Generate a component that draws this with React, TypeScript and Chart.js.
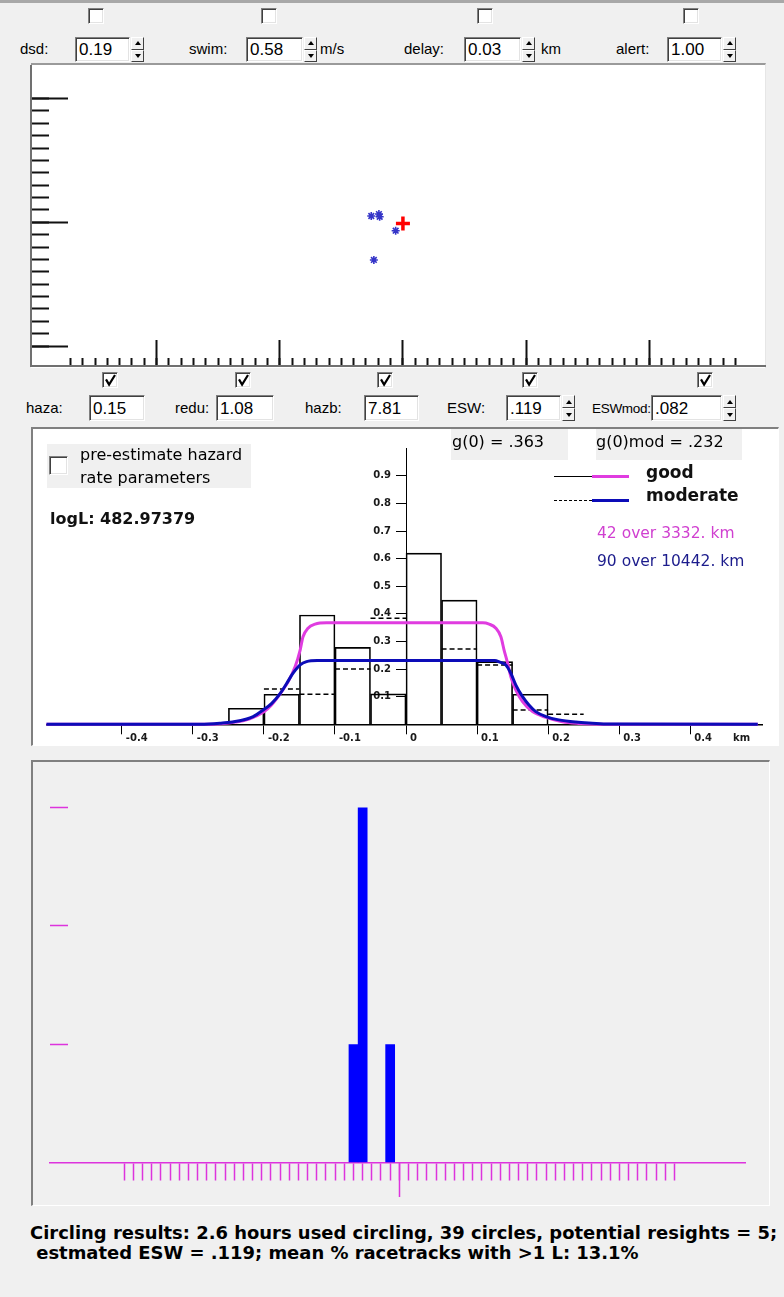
import React, { useEffect, useRef } from 'react';
import { Chart, registerables } from 'chart.js';

Chart.register(...registerables);

// ================= DATA =================
// Top panel: sightings around the circling position (km)
const sightingX = [-0.257, -0.195, -0.189, -0.059, -0.236];
const sightingY = [0.051, 0.067, 0.045, -0.068, -0.304];
const aircraftX = [0];
const aircraftY = [-0.01];
const topMajorTicksX = [-2, -1, 0, 1, 2];
const topMajorTicksY = [-1, 0, 1];
const topMinorLimitX = 2.7;
const topMinorLimitY = 1.0;

// Middle panel: perpendicular distance histograms (km) and detection curves
const binWidth = 0.05;
const goodBinStart = [-0.25, -0.2, -0.15, -0.1, -0.05, 0, 0.05, 0.1, 0.15];
const goodHist = [0.058, 0.109, 0.396, 0.279, 0.11, 0.62, 0.45, 0.227, 0.109];
const moderateBinStart = [-0.2, -0.15, -0.1, -0.05, 0, 0.05, 0.1, 0.15, 0.2];
const moderateHist = [0.128, 0.109, 0.2, 0.384, 0.368, 0.273, 0.215, 0.052, 0.036];

const goodCurveX = [-0.506, -0.29, -0.26, -0.24, -0.22, -0.2, -0.19, -0.18, -0.172, -0.166, -0.156, -0.149, -0.145, -0.138, -0.128, -0.112, 0.108, 0.117, 0.1265, 0.1335, 0.138, 0.143, 0.1475, 0.1546, 0.164, 0.178, 0.197, 0.22, 0.243, 0.275, 0.495];
const goodCurveY = [0, 0, 0.002, 0.008, 0.02, 0.045, 0.068, 0.1, 0.13, 0.154, 0.209, 0.269, 0.317, 0.348, 0.363, 0.368, 0.368, 0.363, 0.348, 0.317, 0.269, 0.221, 0.172, 0.124, 0.082, 0.046, 0.025, 0.009, 0.003, 0, 0];
const modCurveX = [-0.506, -0.29, -0.262, -0.234, -0.215, -0.201, -0.189, -0.177, -0.168, -0.159, -0.149, -0.14, -0.125, 0.125, 0.132, 0.1405, 0.1475, 0.1546, 0.164, 0.173, 0.1826, 0.197, 0.215, 0.239, 0.262, 0.285, 0.495];
const modCurveY = [0, 0, 0.004, 0.013, 0.028, 0.052, 0.076, 0.112, 0.148, 0.185, 0.215, 0.227, 0.231, 0.231, 0.225, 0.215, 0.185, 0.142, 0.1, 0.07, 0.046, 0.028, 0.016, 0.008, 0.004, 0.001, 0];

const histTicksX = [-0.4, -0.3, -0.2, -0.1, 0, 0.1, 0.2, 0.3, 0.4];
const histTickLabelsX = ['-0.4', '-0.3', '-0.2', '-0.1', '0', '0.1', '0.2', '0.3', '0.4'];
const histTicksY = [0.1, 0.2, 0.3, 0.4, 0.5, 0.6, 0.7, 0.8, 0.9];
const histTickLabelsY = ['0.1', '0.2', '0.3', '0.4', '0.5', '0.6', '0.7', '0.8', '0.9'];

// Bottom panel: circling histogram
const circleBins = [-5, -4, -1];
const circleCounts = [1, 3, 1];
const circleTicksY = [1, 2, 3];
const circleMajorTicksX = [0];
const circleTickLimit = 30;

// ================= COLORS =================
const MAGENTA = '#e03ce0';
const CURVE_BLUE = '#0c0cb8';
const BAR_BLUE = '#0000ff';
const PINK = '#dd33dd';

// ================= CHART CONFIGS =================
function topConfig(): any {
  const xMin = -3.02, xMax = 2.94, yMin = -1.161, yMax = 1.263;
  const tickColor = '#111';
  return {
    type: 'scatter',
    data: {
      datasets: [
        {
          label: 'sightings',
          data: sightingX.map((x, i) => ({ x, y: sightingY[i] })),
          pointStyle: 'star',
          pointRadius: 4,
          borderWidth: 1.6,
          borderColor: '#3434c8',
          backgroundColor: '#3434c8',
          xAxisID: 'x',
          yAxisID: 'y',
        },
        {
          label: 'aircraft',
          data: aircraftX.map((x, i) => ({ x, y: aircraftY[i] })),
          pointStyle: 'cross',
          pointRadius: 7,
          borderWidth: 3.5,
          borderColor: '#ff0000',
          backgroundColor: '#ff0000',
          xAxisID: 'x',
          yAxisID: 'y',
        },
      ],
    },
    options: {
      responsive: false,
      animation: false,
      events: [],
      layout: { autoPadding: false, padding: { left: 2, top: 2, right: 2, bottom: 2 } },
      plugins: { legend: { display: false }, tooltip: { enabled: false } },
      scales: {
        x: {
          type: 'linear', axis: 'x', offset: false, min: xMin, max: xMax, position: { y: yMin },
          border: { display: true, color: '#707070', width: 2 },
          grid: { drawOnChartArea: false, drawTicks: true, tickLength: -9, tickColor, tickWidth: 2 },
          ticks: { display: false, stepSize: 0.1 },
          afterBuildTicks: (s: any) => { s.ticks = s.ticks.filter((t: any) => Math.abs(t.value) <= topMinorLimitX + 1e-6); },
        },
        xMajor: {
          type: 'linear', axis: 'x', offset: false, min: xMin, max: xMax, position: { y: yMin },
          border: { display: false },
          grid: { drawOnChartArea: false, drawTicks: true, tickLength: -26, tickColor, tickWidth: 2 },
          ticks: { display: false },
          afterBuildTicks: (s: any) => { s.ticks = topMajorTicksX.map((value) => ({ value })); },
        },
        y: {
          type: 'linear', axis: 'y', offset: false, min: yMin, max: yMax, position: { x: xMin },
          border: { display: true, color: '#707070', width: 2 },
          grid: { drawOnChartArea: false, drawTicks: true, tickLength: -19, tickColor, tickWidth: 2 },
          ticks: { display: false, stepSize: 0.1 },
          afterBuildTicks: (s: any) => { s.ticks = s.ticks.filter((t: any) => Math.abs(t.value) <= topMinorLimitY + 1e-6); },
        },
        yMajor: {
          type: 'linear', axis: 'y', offset: false, min: yMin, max: yMax, position: { x: xMin },
          border: { display: false },
          grid: { drawOnChartArea: false, drawTicks: true, tickLength: -37, tickColor, tickWidth: 2 },
          ticks: { display: false },
          afterBuildTicks: (s: any) => { s.ticks = topMajorTicksY.map((value) => ({ value })); },
        },
      },
    },
  };
}

function histConfig(): any {
  const tickFont = { family: 'DejaVu Sans', size: 10, weight: 'bold' };
  const moderateSegments = moderateBinStart.flatMap((s, i) => [
    { x: s, y: moderateHist[i] },
    { x: s + binWidth, y: moderateHist[i] },
    { x: s + binWidth, y: null },
  ]);
  return {
    type: 'bar',
    data: {
      datasets: [
        {
          type: 'line',
          label: 'moderate curve',
          data: modCurveX.map((x, i) => ({ x, y: modCurveY[i] })),
          borderColor: CURVE_BLUE,
          borderWidth: 3,
          pointRadius: 0,
          cubicInterpolationMode: 'monotone',
          clip: 4,
          order: 0,
        },
        {
          type: 'line',
          label: 'good curve',
          data: goodCurveX.map((x, i) => ({ x, y: goodCurveY[i] })),
          borderColor: MAGENTA,
          borderWidth: 3,
          pointRadius: 0,
          cubicInterpolationMode: 'monotone',
          clip: 4,
          order: 1,
        },
        {
          type: 'line',
          label: 'moderate histogram',
          data: moderateSegments,
          borderColor: '#000',
          borderWidth: 1.5,
          borderDash: [5, 3],
          pointRadius: 0,
          spanGaps: false,
          order: 2,
        },
        {
          type: 'bar',
          label: 'good histogram',
          data: goodBinStart.map((s, i) => ({ x: s + binWidth / 2, y: goodHist[i] })),
          backgroundColor: 'rgba(0,0,0,0)',
          borderColor: '#000',
          borderWidth: 1,
          barPercentage: 1,
          categoryPercentage: 1,
          order: 3,
        },
      ],
    },
    options: {
      responsive: false,
      animation: false,
      events: [],
      layout: { autoPadding: false, padding: { left: 13.5, top: 18.3, right: 16, bottom: 0 } },
      plugins: { legend: { display: false }, tooltip: { enabled: false } },
      scales: {
        x: {
          type: 'linear', offset: false, min: -0.506, max: 0.501, position: 'bottom',
          border: { display: true, color: '#000', width: 1.5 },
          grid: { offset: false, drawOnChartArea: false, drawTicks: true, tickLength: 10, tickColor: '#000', tickWidth: 1 },
          ticks: {
            font: tickFont, color: '#1a1a1a', align: 'start', labelOffset: 4, padding: -2,
            maxRotation: 0, autoSkip: false,
            callback: (_v: any, i: number) => histTickLabelsX[i],
          },
          afterBuildTicks: (s: any) => { s.ticks = histTicksX.map((value) => ({ value })); },
          afterFit: (s: any) => { s.height = 19.7; },
        },
        y: {
          type: 'linear', offset: false, min: 0, max: 1, position: { x: 0 },
          border: { display: true, color: '#000', width: 1 },
          grid: { drawOnChartArea: false, drawTicks: true, tickLength: 10, tickColor: '#000', tickWidth: 1 },
          ticks: { display: false },
          afterBuildTicks: (s: any) => { s.ticks = histTicksY.map((value) => ({ value })); },
        },
        yLabels: {
          type: 'linear', axis: 'y', offset: false, min: 0, max: 1, position: { x: -0.0211 },
          border: { display: false },
          grid: { display: false, drawTicks: false },
          ticks: {
            font: tickFont, color: '#1a1a1a', padding: 0, autoSkip: false,
            callback: (_v: any, i: number) => histTickLabelsY[i],
          },
          afterBuildTicks: (s: any) => { s.ticks = histTicksY.map((value) => ({ value })); },
        },
      },
    },
  };
}

function circleConfig(): any {
  const xMin = -38.1, xMax = 37.7;
  return {
    type: 'bar',
    data: {
      datasets: [
        {
          label: 'circles',
          data: circleBins.map((x, i) => ({ x, y: circleCounts[i] })),
          backgroundColor: BAR_BLUE,
          borderWidth: 0,
          barPercentage: 1.06,
          categoryPercentage: 1,
          xAxisID: 'x',
          yAxisID: 'y',
        },
      ],
    },
    options: {
      responsive: false,
      animation: false,
      events: [],
      layout: { autoPadding: false, padding: { left: 17, top: 10, right: 23, bottom: 41.5 } },
      plugins: { legend: { display: false }, tooltip: { enabled: false } },
      scales: {
        x: {
          type: 'linear', axis: 'x', offset: false, min: xMin, max: xMax, position: { y: 0 },
          border: { display: true, color: PINK, width: 1.5 },
          grid: { offset: false, drawOnChartArea: false, drawTicks: true, tickLength: 17, tickColor: PINK, tickWidth: 1.5 },
          ticks: { display: false, stepSize: 1 },
          afterBuildTicks: (s: any) => { s.ticks = s.ticks.filter((t: any) => Math.abs(t.value) <= circleTickLimit + 1e-6); },
        },
        xMajor: {
          type: 'linear', axis: 'x', offset: false, min: xMin, max: xMax, position: { y: 0 },
          border: { display: false },
          grid: { offset: false, drawOnChartArea: false, drawTicks: true, tickLength: 34, tickColor: PINK, tickWidth: 1.5 },
          ticks: { display: false },
          afterBuildTicks: (s: any) => { s.ticks = circleMajorTicksX.map((value) => ({ value })); },
        },
        y: {
          type: 'linear', axis: 'y', offset: false, min: 0, max: 3.3, position: { x: xMin },
          border: { display: false },
          grid: { drawOnChartArea: false, drawTicks: true, tickLength: -18, tickColor: PINK, tickWidth: 1.5 },
          ticks: { display: false },
          afterBuildTicks: (s: any) => { s.ticks = circleTicksY.map((value) => ({ value })); },
        },
      },
    },
  };
}

// ================= UI PIECES =================
function ChartCanvas({ left, top, width, height, make }: { left: number; top: number; width: number; height: number; make: () => any }) {
  const ref = useRef<HTMLCanvasElement>(null);
  useEffect(() => {
    const chart = new Chart(ref.current as HTMLCanvasElement, make());
    return () => chart.destroy();
  }, []);
  return (
    <canvas
      ref={ref}
      width={width}
      height={height}
      style={{ position: 'absolute', left, top, width, height, display: 'block' }}
    />
  );
}

const sunken = {
  boxSizing: 'border-box' as const,
  borderStyle: 'solid',
  borderWidth: 1,
  borderColor: '#808080 #ffffff #ffffff #808080',
  boxShadow: 'inset 1px 1px 0 #404040, inset -1px -1px 0 #e3e3e3',
};

function T({ x, y, children, size = 14, family = 'Liberation Sans', weight = 400, color = '#000', spacing = 0 }: any) {
  return (
    <div
      style={{
        position: 'absolute', left: x, top: y - size, height: size * 2, lineHeight: `${size * 2}px`,
        fontFamily: family, fontSize: size, fontWeight: weight, color, whiteSpace: 'pre', letterSpacing: spacing,
      }}
    >
      {children}
    </div>
  );
}

function CheckBox({ x, y, size = 16, checked = false }: any) {
  return (
    <div style={{ position: 'absolute', left: x, top: y, width: size, height: size, background: '#fff', ...sunken }}>
      {checked && (
        <svg width={size - 2} height={size - 2} style={{ position: 'absolute', left: 0, top: 0 }}>
          <polyline points={`3,${size * 0.4} ${size * 0.38},${size * 0.72} ${size - 4},2`} fill="none" stroke="#000" strokeWidth={2.2} />
        </svg>
      )}
    </div>
  );
}

function Field({ x, y, w, h, value, size = 16 }: any) {
  return (
    <div
      style={{
        position: 'absolute', left: x, top: y, width: w, height: h, background: '#fff', ...sunken,
        fontFamily: 'Liberation Sans', fontSize: size, lineHeight: `${h - 1}px`, paddingLeft: 3, whiteSpace: 'pre',
      }}
    >
      {value}
    </div>
  );
}

function Spin({ x, y, h }: any) {
  const half = h / 2;
  const btn = {
    height: half, boxSizing: 'border-box' as const, borderStyle: 'solid', borderWidth: 1,
    borderColor: '#ffffff #404040 #404040 #ffffff', background: '#f0f0f0', position: 'relative' as const,
  };
  return (
    <div style={{ position: 'absolute', left: x, top: y, width: 13 }}>
      <div style={btn}>
        <div style={{ position: 'absolute', left: 3, top: half / 2 - 3, width: 0, height: 0, borderLeft: '3px solid transparent', borderRight: '3px solid transparent', borderBottom: '4px solid #000' }} />
      </div>
      <div style={btn}>
        <div style={{ position: 'absolute', left: 3, top: half / 2 - 3, width: 0, height: 0, borderLeft: '3px solid transparent', borderRight: '3px solid transparent', borderTop: '4px solid #000' }} />
      </div>
    </div>
  );
}

function Panel({ x, y, w, h, bg }: any) {
  return (
    <div
      style={{
        position: 'absolute', left: x, top: y, width: w, height: h, background: bg, boxSizing: 'border-box',
        borderStyle: 'solid', borderWidth: '2px 1px 1px 2px', borderColor: '#808080 #ffffff #ffffff #808080',
      }}
    />
  );
}

export default function App() {
  return (
    <div style={{ position: 'absolute', left: 0, top: 0, width: 784, height: 1297, background: '#f0f0f0', overflow: 'hidden' }}>
      <div style={{ position: 'absolute', left: 0, top: 0, width: 784, height: 3, background: '#a8a8a8' }} />

      {/* top row of check boxes */}
      <CheckBox x={88} y={8} />
      <CheckBox x={261} y={8} />
      <CheckBox x={477} y={8} />
      <CheckBox x={683} y={8} />

      {/* top parameters */}
      <T x={20} y={49} size={15}>dsd:</T>
      <Field x={75} y={37} w={55} h={25} value="0.19" size={17} />
      <Spin x={131} y={37} h={25} />
      <T x={189} y={49} size={15}>swim:</T>
      <Field x={246} y={37} w={57} h={25} value="0.58" size={17} />
      <Spin x={304} y={37} h={25} />
      <T x={320} y={49} size={15}>m/s</T>
      <T x={404} y={49} size={15}>delay:</T>
      <Field x={464} y={37} w={57} h={25} value="0.03" size={17} />
      <Spin x={522} y={37} h={25} />
      <T x={541} y={49} size={15}>km</T>
      <T x={616} y={49} size={15}>alert:</T>
      <Field x={667} y={37} w={55} h={25} value="1.00" size={17} />
      <Spin x={723} y={37} h={25} />

      {/* top map panel */}
      <div style={{ position: 'absolute', left: 31, top: 63, width: 735, height: 305, background: '#fff', borderTop: '2px solid #9a9a9a', borderRight: '1px solid #e6e6e6', boxSizing: 'border-box' }} />
      <ChartCanvas left={29} top={64} width={738} height={304} make={topConfig} />

      {/* second row of check boxes */}
      <CheckBox x={102} y={372} checked />
      <CheckBox x={235} y={372} checked />
      <CheckBox x={377} y={372} checked />
      <CheckBox x={522} y={372} checked />
      <CheckBox x={697} y={372} checked />

      {/* hazard parameters */}
      <T x={26} y={408} size={15}>haza:</T>
      <Field x={89} y={395} w={56} h={26} value="0.15" size={17} />
      <T x={175} y={408} size={15}>redu:</T>
      <Field x={216} y={395} w={58} h={26} value="1.08" size={17} />
      <T x={305} y={408} size={15}>hazb:</T>
      <Field x={364} y={395} w={55} h={26} value="7.81" size={17} />
      <T x={447} y={408} size={15}>ESW:</T>
      <Field x={506} y={395} w={55} h={26} value=".119" size={17} />
      <Spin x={562} y={395} h={26} />
      <T x={592} y={408} size={13.5} spacing={-0.3}>ESWmod:</T>
      <Field x={651} y={395} w={71} h={26} value=".082" size={17} />
      <Spin x={723} y={395} h={26} />

      {/* middle histogram panel */}
      <Panel x={31} y={427} w={748} h={319} bg="#ffffff" />
      <ChartCanvas left={33} top={430} width={745} height={314} make={histConfig} />

      <div style={{ position: 'absolute', left: 47, top: 444, width: 204, height: 44, background: '#f0f0f0' }} />
      <CheckBox x={49} y={456} size={19} />
      <T x={80} y={455} size={16} family="DejaVu Sans">pre-estimate hazard</T>
      <T x={80} y={478} size={16} family="DejaVu Sans">rate parameters</T>
      <T x={50} y={519} size={16} family="DejaVu Sans" weight={700} color="#111">logL: 482.97379</T>

      <div style={{ position: 'absolute', left: 451, top: 429, width: 117, height: 31, background: '#f0f0f0' }} />
      <T x={452} y={442} size={16} family="DejaVu Sans">g(0) = .363</T>
      <div style={{ position: 'absolute', left: 596, top: 429, width: 146, height: 31, background: '#f0f0f0' }} />
      <T x={596} y={442} size={16} family="DejaVu Sans">g(0)mod = .232</T>

      {/* legend */}
      <div style={{ position: 'absolute', left: 554, top: 476, width: 38, height: 0, borderTop: '1.5px solid #000' }} />
      <div style={{ position: 'absolute', left: 592, top: 475, width: 37, height: 3, background: MAGENTA }} />
      <T x={646} y={472} size={17} family="DejaVu Sans" weight={700} color="#111">good</T>
      <div style={{ position: 'absolute', left: 554, top: 500, width: 38, height: 0, borderTop: '1.5px dashed #000' }} />
      <div style={{ position: 'absolute', left: 592, top: 499, width: 37, height: 3, background: CURVE_BLUE }} />
      <T x={646} y={495} size={17} family="DejaVu Sans" weight={700} color="#111">moderate</T>
      <T x={597} y={533} size={15.5} family="DejaVu Sans" color="#d040d0">42 over 3332. km</T>
      <T x={597} y={561.5} size={15.5} family="DejaVu Sans" color="#1c1c8c">90 over 10442. km</T>
      <T x={733} y={738} size={10} family="DejaVu Sans" weight={700} color="#1a1a1a">km</T>

      {/* bottom circling panel */}
      <Panel x={31} y={760} w={739} h={446} bg="#f0f0f0" />
      <ChartCanvas left={33} top={762} width={735} height={442} make={circleConfig} />

      <T x={30} y={1233} size={17.95} family="DejaVu Sans" weight={700}>Circling results: 2.6 hours used circling, 39 circles, potential resights = 5;</T>
      <T x={30} y={1253} size={17.95} family="DejaVu Sans" weight={700}> estmated ESW = .119; mean % racetracks with &gt;1 L: 13.1%</T>
    </div>
  );
}
